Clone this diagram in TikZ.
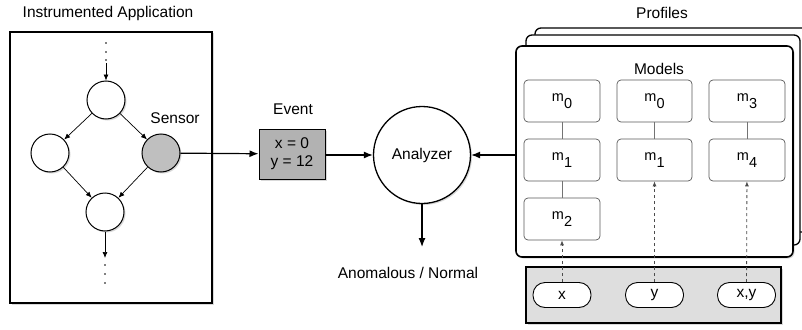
\documentclass[tikz,border=0pt]{standalone}
\usepackage{fontspec}
\setmainfont{Liberation Sans}
\usetikzlibrary{arrows.meta,shadows}
\begin{document}
\begin{tikzpicture}[x=1pt,y=-1pt,
  font=\fontsize{15.5}{18}\selectfont,
  shad/.style={drop shadow={shadow xshift=1.5pt,shadow yshift=-1.5pt,opacity=0.3}},
  circ/.style={circle,draw,line width=1pt,minimum size=38pt,inner sep=0pt,fill=white,shad},
  arr/.style={-{Latex[length=9pt,width=7pt]},line width=1.2pt},
  sarr/.style={-{Latex[length=6pt,width=5pt]},line width=0.7pt},
  mbox/.style={draw=black!65,rounded corners=4pt,line width=0.7pt,minimum width=76pt,minimum height=42pt,inner sep=0pt,fill=white,font=\fontsize{14.5}{17}\selectfont},
  pill/.style={draw,rounded corners=12pt,line width=0.9pt,minimum width=58pt,minimum height=25pt,inner sep=0pt,fill=white},
  dasharr/.style={dashed,draw=black!70,line width=0.8pt,-{Latex[length=5pt,width=4pt]}},
  lbl/.style={inner sep=0pt}
]
\useasboundingbox (0,0) rectangle (802,329);
\newcommand{\msub}[1]{\raisebox{3pt}{m\raisebox{-7pt}{#1}}}
% left application box
\node[draw,line width=1.6pt,minimum width=202pt,minimum height=271pt,inner sep=0pt,fill=white,shad] (app) at (111,167.5) {};
\node[lbl] (apptitle) at (108,13) {Instrumented Application};
\node[circ] (c1) at (106,100) {};
\node[circ] (c2) at (50,153) {};
\node[circ,fill=black!25] (sensor) at (161,153) {};
\node[circ] (c4) at (105,212) {};
\node[lbl] (sensorlbl) at (175,118) {Sensor};
\foreach \yy in {43,52,60} \fill (106,\yy) circle (0.8pt);
\foreach \yy in {265,274,283} \fill (105,\yy) circle (0.8pt);
\coordinate (topin) at (106,63);
\coordinate (botout) at (105,258);
\draw[sarr] (topin) -- (c1);
\draw[sarr] (c1) -- (c2);
\draw[sarr] (c1) -- (sensor);
\draw[sarr] (c2) -- (c4);
\draw[sarr] (sensor) -- (c4);
\draw[sarr] (c4) -- (botout);
% event
\node[draw,line width=1pt,fill=black!30,minimum width=66pt,minimum height=50pt,inner sep=0pt,align=center,shad,font=\fontsize{15.5}{18}\selectfont] (event) at (292,154) {x = 0\\y = 12};
\node[lbl] (eventlbl) at (293,109) {Event};
\draw[arr] (sensor) -- (event);
% analyzer
\node[circle,draw,line width=1.3pt,minimum size=97pt,inner sep=0pt,fill=white,shad] (analyzer) at (422,155) {Analyzer};
\draw[arr] (event.east |- analyzer) -- (analyzer);
\coordinate (outpt) at (422,247);
\draw[arr] (analyzer) -- (outpt);
\node[lbl] (outlbl) at (408,273) {Anomalous / Normal};
% profiles
\node[lbl] (proflbl) at (662,13) {Profiles};
\draw[line width=1.3pt,rounded corners=6pt,fill=white] (535,28) rectangle (812,232);
\draw[line width=1.3pt,rounded corners=6pt,fill=white] (526,35) rectangle (800,245);
\node[draw,line width=1.6pt,rounded corners=6pt,minimum width=277pt,minimum height=211pt,inner sep=0pt,fill=white,shad] (front) at (654.5,151.5) {};
\node[lbl] (modlbl) at (659,69) {Models};
\node[mbox] (a0) at (562,101) {\msub{0}};
\node[mbox] (a1) at (562,160) {\msub{1}};
\node[mbox] (a2) at (562,219) {\msub{2}};
\node[mbox,minimum width=75pt] (b0) at (654.5,101) {\msub{0}};
\node[mbox,minimum width=75pt] (b1) at (654.5,160) {\msub{1}};
\node[mbox] (d0) at (747,101) {\msub{3}};
\node[mbox] (d1) at (747,160) {\msub{4}};
\draw[black!55,line width=0.8pt] (a0) -- (a1) (a1) -- (a2) (b0) -- (b1) (d0) -- (d1);
\draw[arr] (front.west |- analyzer) -- (analyzer);
% features
\node[draw,line width=1.6pt,fill=black!13,minimum width=255pt,minimum height=56pt,inner sep=0pt,shad] (feat) at (653.5,295) {};
\node[pill] (px) at (562,295) {x};
\node[pill] (py) at (654.5,295) {y};
\node[pill] (pxy) at (746.5,295) {x,y};
\draw[dasharr] (px) -- (a2);
\draw[dasharr] (py) -- (b1);
\draw[dasharr] (pxy) -- (d1);
\end{tikzpicture}
\end{document}
